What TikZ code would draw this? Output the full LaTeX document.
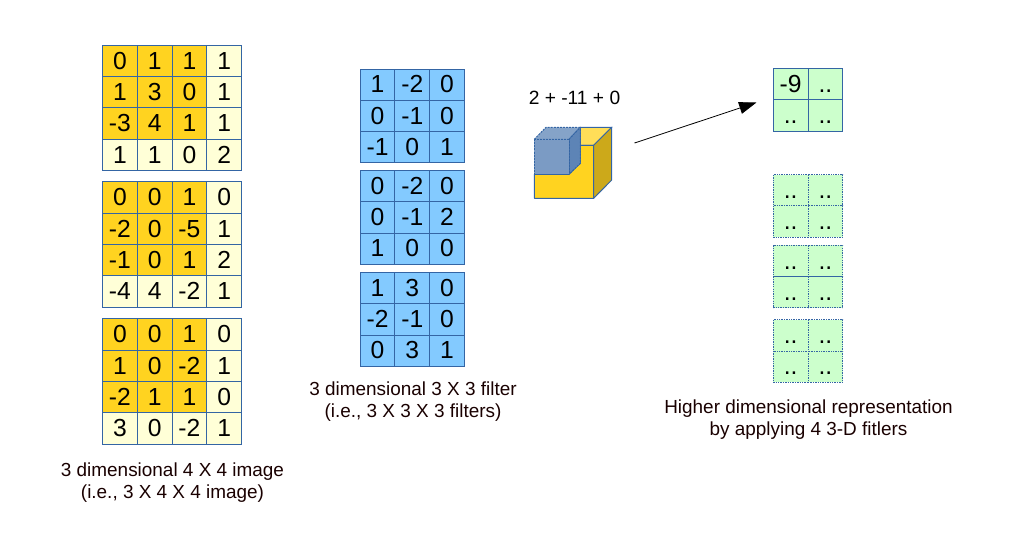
\documentclass[tikz,border=0pt]{standalone}
\usepackage{fontspec}
\setmainfont{Liberation Sans}
\usetikzlibrary{matrix,arrows.meta}

\definecolor{imgdark}{HTML}{FFD320}
\definecolor{imglight}{HTML}{FFFFD7}
\definecolor{filterblue}{HTML}{83CAFF}
\definecolor{outgreen}{HTML}{CCFFCC}
\definecolor{gridline}{HTML}{3465A4}

\tikzset{
  cellgrid/.style={matrix of nodes, nodes in empty cells, inner sep=0pt,
    column sep=-0.75pt, row sep=-0.75pt,
    nodes={draw=gridline, line width=0.75pt, minimum width=26.06pt, minimum height=23.44pt,
      inner sep=0pt, text height=17.6pt, text depth=5.4pt, font=\fontsize{18.5}{18.5}\selectfont}},
  imggrid/.style={cellgrid, nodes={fill=imgdark},
    column 4/.style={nodes={fill=imglight}}, row 4/.style={nodes={fill=imglight}}},
  filtergrid/.style={cellgrid, nodes={fill=filterblue}},
  outgrid/.style={cellgrid, nodes={fill=outgreen}},
  dotgrid/.style={outgrid, nodes={dash pattern=on 1pt off 0.8pt}},
  caption/.style={align=center, font=\fontsize{14.2}{16.5}\selectfont, text=black!90!red},
  cubeface/.style={draw=gridline, line width=0.75pt, line join=round},
  blueface/.style={cubeface, dash pattern=on 1.5pt off 0.8pt}
}

\begin{document}
\begin{tikzpicture}[x=0.75pt,y=-0.75pt]
  \useasboundingbox (0,0) rectangle (1021,556);

  % image slices
  \matrix (imgA) [imggrid] at (172,108) {
    0 & 1 & 1 & 1 \\
    1 & 3 & 0 & 1 \\
    -3 & 4 & 1 & 1 \\
    1 & 1 & 0 & 2 \\
  };
  \matrix (imgB) [imggrid] at (172,244.5) {
    0 & 0 & 1 & 0 \\
    -2 & 0 & -5 & 1 \\
    -1 & 0 & 1 & 2 \\
    -4 & 4 & -2 & 1 \\
  };
  \matrix (imgC) [imggrid] at (172,381.5) {
    0 & 0 & 1 & 0 \\
    1 & 0 & -2 & 1 \\
    -2 & 1 & 1 & 0 \\
    3 & 0 & -2 & 1 \\
  };
  \node (imgcap) [caption] at (172.5,482.5) {3 dimensional 4 X 4 image\\(i.e., 3 X 4 X 4 image)};

  % filter slices
  \matrix (filtA) [filtergrid] at (412.3,116) {
    1 & -2 & 0 \\
    0 & -1 & 0 \\
    -1 & 0 & 1 \\
  };
  \matrix (filtB) [filtergrid] at (412.3,217.5) {
    0 & -2 & 0 \\
    0 & -1 & 2 \\
    1 & 0 & 0 \\
  };
  \matrix (filtC) [filtergrid] at (412.3,319.5) {
    1 & 3 & 0 \\
    -2 & -1 & 0 \\
    0 & 3 & 1 \\
  };
  \node (filtcap) [caption] at (413,402) {3 dimensional 3 X 3 filter\\(i.e., 3 X 3 X 3 filters)};

  % cube
  \fill[imgdark!75!white, draw=gridline, line width=0.75pt] (580.3,127.3) -- (611.7,127.3) -- (593.7,145.3) -- (580.3,145.3) -- cycle;
  \filldraw[cubeface, fill=imgdark] (534.3,174.3) -- (569,174.3) -- (580.3,163.3) -- (580.3,145.3) -- (593.7,145.3) -- (593.7,198.3) -- (534.3,198.3) -- cycle;
  \filldraw[cubeface, fill=imgdark!80!black] (593.7,145.3) -- (611.7,127.3) -- (611.7,180) -- (593.7,198.3) -- cycle;
  \filldraw[blueface, fill=gridline!60!white] (534.3,139.3) -- (546,127.3) -- (580.3,127.3) -- (569,139.3) -- cycle;
  \filldraw[blueface, fill=gridline!80!white] (569,139.3) -- (580.3,127.3) -- (580.3,163.3) -- (569,174.3) -- cycle;
  \filldraw[blueface, fill=gridline!65!white] (534.3,139.3) rectangle (569,174.3);
  \node (sum) [font=\fontsize{14.4}{16}\selectfont] at (574.5,97.5) {2 + -11 + 0};

  \coordinate (arrowfrom) at (634.5,143);
  \coordinate (arrowto) at (756.5,102.5);
  \draw[-{Triangle[length=13pt,width=9pt]}, line width=0.6pt] (arrowfrom) -- (arrowto);

  % outputs
  \matrix (outA) [outgrid] at (808,100) {
    -9 & .. \\
    .. & .. \\
  };
  \matrix (outB) [dotgrid] at (808,206) {
    .. & .. \\
    .. & .. \\
  };
  \matrix (outC) [dotgrid] at (808,276.5) {
    .. & .. \\
    .. & .. \\
  };
  \matrix (outD) [dotgrid] at (808,351) {
    .. & .. \\
    .. & .. \\
  };
  \node (outcap) [caption] at (808.5,419.5) {Higher dimensional representation\\by applying 4 3-D fitlers};
\end{tikzpicture}
\end{document}
